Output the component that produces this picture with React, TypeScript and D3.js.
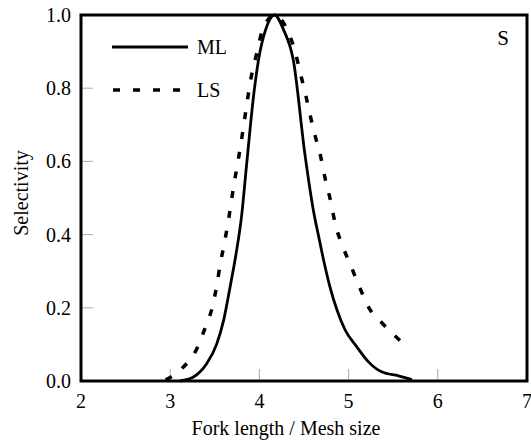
import React from "react";
import * as d3 from "d3";

const xTicks = [2, 3, 4, 5, 6, 7];
const yTicks = [0.0, 0.2, 0.4, 0.6, 0.8, 1.0];

const mlX = [3.11, 3.26, 3.41, 3.52, 3.60, 3.67, 3.74, 3.80, 3.86, 3.94, 3.99, 4.07, 4.17, 4.27, 4.38, 4.51, 4.61, 4.66, 4.72, 4.79, 4.87, 4.96, 5.09, 5.22, 5.37, 5.56, 5.71];
const mlY = [0.0, 0.011, 0.048, 0.10, 0.167, 0.255, 0.35, 0.45, 0.60, 0.79, 0.877, 0.96, 1.0, 0.96, 0.877, 0.62, 0.46, 0.40, 0.33, 0.258, 0.194, 0.14, 0.094, 0.053, 0.025, 0.014, 0.004];

const lsX = [2.95, 3.13, 3.30, 3.39, 3.47, 3.52, 3.56, 3.61, 3.66, 3.71, 3.76, 3.80, 3.84, 3.88, 3.92, 3.97, 4.03, 4.17, 4.31, 4.40, 4.46, 4.52, 4.57, 4.63, 4.69, 4.74, 4.80, 4.85, 4.93, 5.02, 5.12, 5.23, 5.38, 5.58];
const lsY = [0.003, 0.034, 0.089, 0.144, 0.20, 0.258, 0.318, 0.38, 0.45, 0.53, 0.60, 0.66, 0.725, 0.79, 0.845, 0.895, 0.955, 1.0, 0.96, 0.90, 0.84, 0.78, 0.725, 0.665, 0.61, 0.55, 0.49, 0.43, 0.37, 0.318, 0.258, 0.199, 0.157, 0.11];

const seriesNames = ["ML", "LS"];
const panelLabel = "S";
const xLabel = "Fork length / Mesh size";
const yLabel = "Selectivity";

export default function App() {
  const W = 531, H = 443;
  const left = 81, right = 527, top = 15, bottom = 381;
  const x = d3.scaleLinear().domain([2, 7]).range([left, right]);
  const y = d3.scaleLinear().domain([0, 1]).range([bottom, top]);
  const line = d3
    .line<[number, number]>()
    .x((d) => x(d[0]))
    .y((d) => y(d[1]))
    .curve(d3.curveMonotoneX);
  const ml: [number, number][] = mlX.map((v, i) => [v, mlY[i]]);
  const ls: [number, number][] = lsX.map((v, i) => [v, lsY[i]]);
  const ff = '"Liberation Serif", "Times New Roman", Times, "Nimbus Roman", "Noto Serif", "DejaVu Serif", FreeSerif, serif';
  return (
    <svg
      width={W}
      height={H}
      style={{ position: "absolute", left: 0, top: 0, background: "#fff" }}
      fontFamily={ff}
    >
      <rect x={0} y={0} width={W} height={H} fill="#fff" />
      {xTicks.slice(1, -1).map((t) => (
        <line key={"xt" + t} x1={x(t)} x2={x(t)} y1={bottom} y2={bottom - 12} stroke="#aaa" strokeWidth={1} />
      ))}
      {yTicks.slice(1, -1).map((t) => (
        <line key={"yt" + t} x1={left} x2={left + 12} y1={y(t)} y2={y(t)} stroke="#aaa" strokeWidth={1} />
      ))}
      <path d={line(ml) || ""} fill="none" stroke="#000" strokeWidth={2.8} strokeLinejoin="round" />
      <path d={line(ls) || ""} fill="none" stroke="#000" strokeWidth={3.5} strokeDasharray="7,13" />
      <rect x={left} y={top} width={right - left} height={bottom - top} fill="none" stroke="#000" strokeWidth={3} />
      {xTicks.map((t) => (
        <text key={"xl" + t} x={x(t)} y={408} textAnchor="middle" fontSize={20} fill="#000">
          {t}
        </text>
      ))}
      {yTicks.map((t) => (
        <text key={"yl" + t} x={71} y={y(t) + 7} textAnchor="end" fontSize={20} fill="#000">
          {t.toFixed(1)}
        </text>
      ))}
      <text x={286} y={435} textAnchor="middle" fontSize={20} fill="#000">
        {xLabel}
      </text>
      <text transform="translate(28,193) rotate(-90)" textAnchor="middle" fontSize={20} fill="#000">
        {yLabel}
      </text>
      <line x1={112} x2={188} y1={47} y2={47} stroke="#000" strokeWidth={3} />
      <text x={197} y={54} fontSize={20} fill="#000">{seriesNames[0]}</text>
      <line x1={113} x2={188} y1={90} y2={90} stroke="#000" strokeWidth={3.5} strokeDasharray="7,13" />
      <text x={197} y={97} fontSize={20} fill="#000">{seriesNames[1]}</text>
      <text x={503} y={45} textAnchor="middle" fontSize={21} fill="#000">{panelLabel}</text>
    </svg>
  );
}
